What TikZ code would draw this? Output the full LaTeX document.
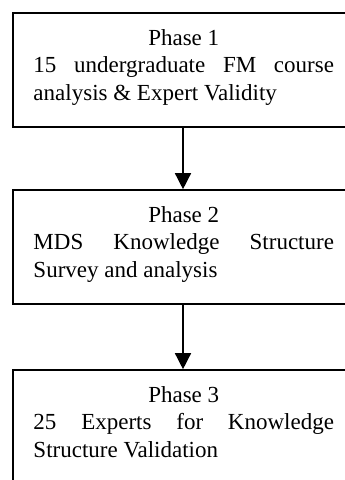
\documentclass[tikz,border=0pt]{standalone}
\usepackage{fontspec}
\setmainfont{Liberation Serif}
\usetikzlibrary{arrows.meta,calc}
\tikzset{
  phasebox/.style={draw=black, line width=1.6pt, rectangle, minimum width=341.5pt, minimum height=114pt, inner sep=0pt},
  phasetext/.style={inner sep=0pt, text width=300.5pt, align=justify, anchor=base,
    font=\fontsize{23}{27.6}\selectfont},
  flow/.style={line width=1.4pt, -{Triangle[length=16pt,width=16pt]}}
}
\begin{document}
\begin{tikzpicture}[x=1pt,y=1pt]
\useasboundingbox (0,0) rectangle (345,-480);
\clip (0,0) rectangle (345,-480);
\node[phasebox] (p1) at (183.75,-70) {};
\node[phasebox] (p2) at (183.75,-247) {};
\node[phasebox] (p3) at (183.75,-427) {};
\node[phasetext] (t1) at ($(p1.north)+(0,-33)$) {\hfill Phase 1\hfill\null\par 15 undergraduate FM course\linebreak analysis \& Expert Validity};
\node[phasetext] (t2) at ($(p2.north)+(0,-33)$) {\hfill Phase 2\hfill\null\par MDS Knowledge Structure\linebreak Survey and analysis};
\node[phasetext] (t3) at ($(p3.north)+(0,-33)$) {\hfill Phase 3\hfill\null\par 25 Experts for Knowledge\linebreak Structure Validation};
\draw[flow] ([xshift=-0.75pt]p1.south) -- ([xshift=-0.75pt]p2.north);
\draw[flow] ([xshift=-0.75pt]p2.south) -- ([xshift=-0.75pt]p3.north);
\end{tikzpicture}
\end{document}
